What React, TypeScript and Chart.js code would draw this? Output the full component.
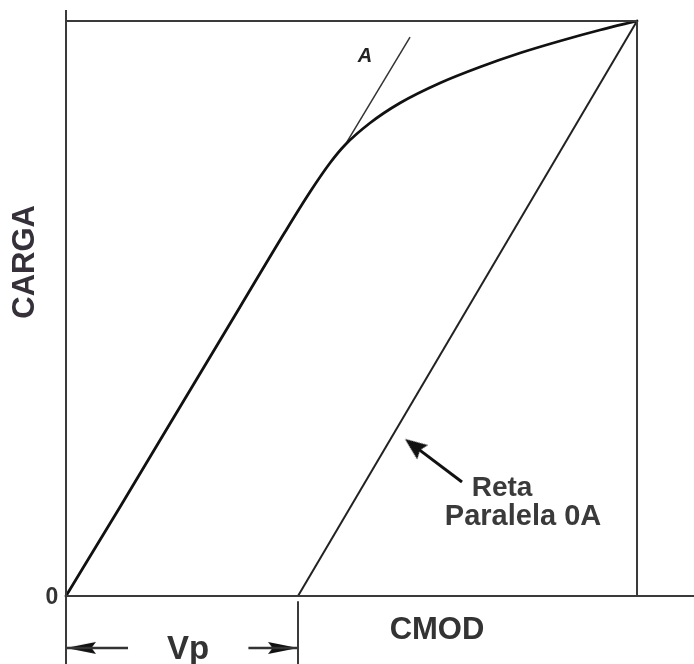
import { useEffect, useRef } from 'react';
import { Chart, registerables } from 'chart.js';

Chart.register(...registerables);

// Load–CMOD curve (CMOD and load as % of the maximum)
const curveCMOD = [0, 9.46, 19.96, 30.47, 38.35, 42.73, 46.23, 48.86, 53.24, 58.49, 65.5, 72.5, 79.51, 86.51, 93.52, 100];
const curveCarga = [0, 15.48, 32.87, 50.26, 63.3, 70.26, 75.3, 78.43, 82.26, 85.74, 89.22, 92.0, 94.43, 96.52, 98.43, 100];

// Tangent line 0A (elastic slope) from tangent point up to A
const lineOA_CMOD = [48.86, 60.25];
const lineOA_Carga = [78.43, 97.2];

// Line parallel to 0A, from Vp on the CMOD axis to the max load point
const parallelCMOD = [40.63, 100];
const parallelCarga = [0, 100];

// Plastic displacement Vp
const vpStart = 0;
const vpEnd = 40.63;
const vpLevel = -9.04;
const vpArrowLen = 10.86; // length of each arrow shaft

// Pointer arrow to the parallel line
const pointerTail = { x: 69.35, y: 19.83 };
const pointerTip = { x: 59.37, y: 27.3 };

// Frame
const maxCMOD = 100;
const maxCarga = 100;
const axisTop = 101.9;

// Scale extents
const X_MIN = -11.56;
const X_MAX = 109.98;
const Y_MIN = -11.83;
const Y_MAX = 103.65;

type Label = { text: string; x: number; y: number; font: string; color: string; rotate?: number };
const labels: Label[] = [
  { text: 'CARGA', x: -7.18, y: 58.1, font: 'bold 31px "Liberation Sans", Arial, sans-serif', color: '#35303a', rotate: -90 },
  { text: 'CMOD', x: 64.97, y: -5.91, font: 'bold 31px "Liberation Sans", Arial, sans-serif', color: '#333333' },
  { text: 'Vp', x: 21.37, y: -9.3, font: 'bold 33px "Liberation Sans", Arial, sans-serif', color: '#333333' },
  { text: '0', x: -2.45, y: -0.35, font: 'bold 23px "Liberation Sans", Arial, sans-serif', color: '#333333' },
  { text: 'A', x: 52.36, y: 93.74, font: 'italic bold 20px "Liberation Sans", Arial, sans-serif', color: '#222222' },
  { text: 'Reta', x: 76.36, y: 18.78, font: 'bold 28px "Liberation Sans", Arial, sans-serif', color: '#3a3a3a' },
  { text: 'Paralela 0A', x: 80.04, y: 13.74, font: 'bold 29px "Liberation Sans", Arial, sans-serif', color: '#3a3a3a' },
];

function makeArrowHead(len: number, halfW: number, color: string): HTMLCanvasElement {
  const c = document.createElement('canvas');
  c.width = len * 2;
  c.height = halfW * 2 + 2;
  const ctx = c.getContext('2d')!;
  ctx.fillStyle = color;
  ctx.beginPath();
  ctx.moveTo(len, c.height / 2);
  ctx.lineTo(0, c.height / 2 - halfW);
  ctx.lineTo(len * 0.15, c.height / 2);
  ctx.lineTo(0, c.height / 2 + halfW);
  ctx.closePath();
  ctx.fill();
  return c;
}

const zip = (xs: number[], ys: number[]) => xs.map((x, i) => ({ x, y: ys[i] }));

export default function App() {
  const ref = useRef<HTMLCanvasElement | null>(null);

  useEffect(() => {
    if (!ref.current) return;
    const vpHead = makeArrowHead(30, 6, '#111111');
    const ptrHead = makeArrowHead(22, 9, '#111111');
    const ptrAngle =
      (Math.atan2(-(pointerTip.y - pointerTail.y) * 5.75, (pointerTip.x - pointerTail.x) * 5.71) * 180) / Math.PI;

    const frame = '#3a3a3a';
    const lineDs = (data: { x: number; y: number }[], color: string, width: number, extra: any = {}) => ({
      data,
      showLine: true,
      borderColor: color,
      borderWidth: width,
      pointRadius: 0,
      fill: false,
      ...extra,
    });

    const labelPlugin = {
      id: 'labels',
      afterDatasetsDraw(chart: any) {
        const { ctx, scales } = chart;
        labels.forEach((l) => {
          const px = scales.x.getPixelForValue(l.x);
          const py = scales.y.getPixelForValue(l.y);
          ctx.save();
          ctx.translate(px, py);
          if (l.rotate) ctx.rotate((l.rotate * Math.PI) / 180);
          ctx.font = l.font;
          ctx.fillStyle = l.color;
          ctx.textAlign = 'center';
          ctx.textBaseline = 'middle';
          ctx.fillText(l.text, 0, 0);
          ctx.restore();
        });
      },
    };

    const chart = new Chart(ref.current, {
      type: 'scatter',
      data: {
        datasets: [
          // frame / axes
          lineDs(zip([0, 0], [axisTop, Y_MIN]), frame, 2),
          lineDs(zip([0, X_MAX], [0, 0]), frame, 2),
          lineDs(zip([0, maxCMOD], [maxCarga, maxCarga]), frame, 2),
          lineDs(zip([maxCMOD, maxCMOD], [maxCarga, 0]), frame, 2),
          lineDs(zip([vpEnd, vpEnd], [-0.9, Y_MIN]), frame, 2),
          // main curve
          lineDs(zip(curveCMOD, curveCarga), '#111111', 2.8, { cubicInterpolationMode: 'monotone', borderCapStyle: 'round' }),
          // tangent 0A
          lineDs(zip(lineOA_CMOD, lineOA_Carga), '#333333', 1.5),
          // parallel line
          lineDs(zip(parallelCMOD, parallelCarga), '#222222', 2),
          // Vp arrows shafts
          lineDs(zip([vpStart, vpStart + vpArrowLen], [vpLevel, vpLevel]), '#333333', 2.5),
          lineDs(zip([vpEnd - vpArrowLen * 0.8, vpEnd], [vpLevel, vpLevel]), '#333333', 2.5),
          // Vp arrowheads
          {
            data: [{ x: vpStart, y: vpLevel }],
            pointStyle: vpHead,
            pointRadius: 5,
            pointRotation: 180,
            showLine: false,
          },
          {
            data: [{ x: vpEnd, y: vpLevel }],
            pointStyle: vpHead,
            pointRadius: 5,
            pointRotation: 0,
            showLine: false,
          },
          // pointer arrow
          lineDs(zip([pointerTail.x, pointerTip.x + 2], [pointerTail.y, pointerTip.y - 1.5]), '#111111', 3),
          {
            data: [pointerTip],
            pointStyle: ptrHead,
            pointRadius: 5,
            pointRotation: ptrAngle,
            showLine: false,
          },
        ] as any,
      },
      options: {
        animation: false,
        responsive: false,
        devicePixelRatio: 1,
        layout: { padding: 0, autoPadding: false },
        plugins: { legend: { display: false }, tooltip: { enabled: false }, title: { display: false } },
        events: [],
        scales: {
          x: { type: 'linear', min: X_MIN, max: X_MAX, display: false },
          y: { type: 'linear', min: Y_MIN, max: Y_MAX, display: false },
        },
      },
      plugins: [labelPlugin],
    });
    return () => chart.destroy();
  }, []);

  return (
    <div style={{ position: 'fixed', left: 0, top: 0, width: 694, height: 664, background: '#ffffff' }}>
      <canvas ref={ref} width={694} height={664} style={{ display: 'block', width: 694, height: 664 }} />
    </div>
  );
}
